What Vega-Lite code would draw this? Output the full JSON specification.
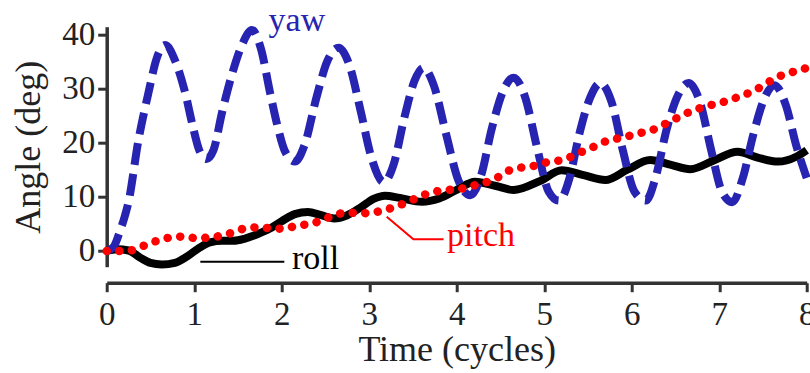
{
  "$schema": "https://vega.github.io/schema/vega-lite/v6.json",
  "width": 700,
  "height": 240,
  "autosize": {"type": "none"},
  "padding": {"left": 106.7, "top": 26.7, "right": 3.3, "bottom": 106.3},
  "config": {"view": {"stroke": null}, "font": "Liberation Serif"},
  "datasets": {
    "yaw": [
      {"series":"yaw","t":0,"v":0},{"series":"yaw","t":0.08,"v":0.8},{"series":"yaw","t":0.15,"v":3.6},{"series":"yaw","t":0.21,"v":6.6},
      {"series":"yaw","t":0.25,"v":9.1},{"series":"yaw","t":0.36,"v":20.2},{"series":"yaw","t":0.48,"v":29.4},{"series":"yaw","t":0.57,"v":35.5},
      {"series":"yaw","t":0.67,"v":38.0},{"series":"yaw","t":0.78,"v":35.2},{"series":"yaw","t":0.9,"v":29.0},{"series":"yaw","t":0.98,"v":23.3},
      {"series":"yaw","t":1.06,"v":18.5},{"series":"yaw","t":1.14,"v":17.0},{"series":"yaw","t":1.22,"v":18.6},{"series":"yaw","t":1.32,"v":25.7},
      {"series":"yaw","t":1.43,"v":32.5},{"series":"yaw","t":1.545,"v":38.0},{"series":"yaw","t":1.66,"v":40.8},{"series":"yaw","t":1.76,"v":37.5},
      {"series":"yaw","t":1.87,"v":29.0},{"series":"yaw","t":1.95,"v":23.2},{"series":"yaw","t":2.04,"v":18.3},{"series":"yaw","t":2.15,"v":16.5},
      {"series":"yaw","t":2.26,"v":19.5},{"series":"yaw","t":2.4,"v":28.5},{"series":"yaw","t":2.52,"v":35.0},{"series":"yaw","t":2.65,"v":37.5},
      {"series":"yaw","t":2.78,"v":34.0},{"series":"yaw","t":2.9,"v":26.0},{"series":"yaw","t":3.03,"v":17.0},{"series":"yaw","t":3.165,"v":12.7},
      {"series":"yaw","t":3.28,"v":16.0},{"series":"yaw","t":3.4,"v":24.5},{"series":"yaw","t":3.52,"v":31.5},{"series":"yaw","t":3.62,"v":33.8},
      {"series":"yaw","t":3.74,"v":30.5},{"series":"yaw","t":3.88,"v":21.5},{"series":"yaw","t":4.02,"v":13.0},{"series":"yaw","t":4.157,"v":10.3},
      {"series":"yaw","t":4.28,"v":14.0},{"series":"yaw","t":4.4,"v":22.5},{"series":"yaw","t":4.53,"v":29.5},{"series":"yaw","t":4.65,"v":32.0},
      {"series":"yaw","t":4.78,"v":28.5},{"series":"yaw","t":4.92,"v":19.0},{"series":"yaw","t":5.05,"v":11.0},{"series":"yaw","t":5.17,"v":9.3},
      {"series":"yaw","t":5.29,"v":13.5},{"series":"yaw","t":5.4,"v":21.5},{"series":"yaw","t":5.53,"v":28.5},{"series":"yaw","t":5.64,"v":31.0},
      {"series":"yaw","t":5.77,"v":27.5},{"series":"yaw","t":5.9,"v":18.5},{"series":"yaw","t":6.03,"v":11.0},{"series":"yaw","t":6.16,"v":9.3},
      {"series":"yaw","t":6.28,"v":14.0},{"series":"yaw","t":6.4,"v":22.5},{"series":"yaw","t":6.53,"v":28.8},{"series":"yaw","t":6.65,"v":31.0},
      {"series":"yaw","t":6.78,"v":27.5},{"series":"yaw","t":6.91,"v":18.5},{"series":"yaw","t":7.03,"v":11.0},{"series":"yaw","t":7.15,"v":9.0},
      {"series":"yaw","t":7.27,"v":13.5},{"series":"yaw","t":7.39,"v":21.5},{"series":"yaw","t":7.52,"v":28.3},{"series":"yaw","t":7.63,"v":30.6},
      {"series":"yaw","t":7.76,"v":27.0},{"series":"yaw","t":7.88,"v":19.5},{"series":"yaw","t":8.0,"v":13.5}
    ],
    "pitch": [
      {"series":"pitch","t":0,"v":0},{"series":"pitch","t":0.13,"v":0},{"series":"pitch","t":0.27,"v":0.1},{"series":"pitch","t":0.43,"v":1.0},
      {"series":"pitch","t":0.57,"v":1.85},{"series":"pitch","t":0.71,"v":2.45},{"series":"pitch","t":0.87,"v":2.65},{"series":"pitch","t":1.01,"v":2.4},
      {"series":"pitch","t":1.16,"v":2.45},{"series":"pitch","t":1.3,"v":2.8},{"series":"pitch","t":1.44,"v":3.4},{"series":"pitch","t":1.59,"v":4.2},
      {"series":"pitch","t":1.73,"v":4.35},{"series":"pitch","t":1.88,"v":4.2},{"series":"pitch","t":2.03,"v":4.1},{"series":"pitch","t":2.17,"v":4.7},
      {"series":"pitch","t":2.32,"v":4.95},{"series":"pitch","t":2.46,"v":5.7},{"series":"pitch","t":2.6,"v":6.6},{"series":"pitch","t":2.75,"v":7.1},
      {"series":"pitch","t":2.89,"v":6.95},{"series":"pitch","t":3.04,"v":7.1},{"series":"pitch","t":3.18,"v":7.6},{"series":"pitch","t":3.33,"v":8.35},
      {"series":"pitch","t":3.46,"v":9.2},{"series":"pitch","t":3.6,"v":10.2},{"series":"pitch","t":3.74,"v":10.9},{"series":"pitch","t":3.88,"v":11.25},
      {"series":"pitch","t":4.02,"v":11.4},{"series":"pitch","t":4.17,"v":12.0},{"series":"pitch","t":4.32,"v":12.6},{"series":"pitch","t":4.46,"v":13.5},
      {"series":"pitch","t":4.59,"v":14.8},{"series":"pitch","t":4.74,"v":15.4},{"series":"pitch","t":4.88,"v":15.7},{"series":"pitch","t":5.01,"v":16.3},
      {"series":"pitch","t":5.17,"v":16.7},{"series":"pitch","t":5.31,"v":17.4},{"series":"pitch","t":5.45,"v":18.45},{"series":"pitch","t":5.59,"v":19.4},
      {"series":"pitch","t":5.72,"v":20.35},{"series":"pitch","t":5.85,"v":20.8},{"series":"pitch","t":6.01,"v":21.4},{"series":"pitch","t":6.15,"v":22.0},
      {"series":"pitch","t":6.28,"v":22.6},{"series":"pitch","t":6.41,"v":23.7},{"series":"pitch","t":6.55,"v":24.8},{"series":"pitch","t":6.68,"v":25.8},
      {"series":"pitch","t":6.83,"v":26.6},{"series":"pitch","t":6.97,"v":27.2},{"series":"pitch","t":7.11,"v":27.8},{"series":"pitch","t":7.25,"v":28.65},
      {"series":"pitch","t":7.39,"v":29.5},{"series":"pitch","t":7.52,"v":30.75},{"series":"pitch","t":7.65,"v":32.0},{"series":"pitch","t":7.79,"v":32.8},
      {"series":"pitch","t":7.92,"v":33.4},{"series":"pitch","t":8.0,"v":33.8}
    ],
    "roll": [
      {"series":"roll","t":0,"v":0},{"series":"roll","t":0.12,"v":0.3},{"series":"roll","t":0.25,"v":0.1},{"series":"roll","t":0.38,"v":-1.2},
      {"series":"roll","t":0.5,"v":-2.2},{"series":"roll","t":0.63,"v":-2.5},{"series":"roll","t":0.78,"v":-2.2},{"series":"roll","t":0.92,"v":-1.0},
      {"series":"roll","t":1.05,"v":0.5},{"series":"roll","t":1.18,"v":1.6},{"series":"roll","t":1.32,"v":1.9},{"series":"roll","t":1.45,"v":1.9},
      {"series":"roll","t":1.58,"v":2.3},{"series":"roll","t":1.72,"v":3.1},{"series":"roll","t":1.86,"v":4.1},{"series":"roll","t":2.0,"v":5.5},
      {"series":"roll","t":2.15,"v":6.8},{"series":"roll","t":2.3,"v":7.2},{"series":"roll","t":2.45,"v":6.6},{"series":"roll","t":2.6,"v":6.0},
      {"series":"roll","t":2.75,"v":6.6},{"series":"roll","t":2.9,"v":8.0},{"series":"roll","t":3.05,"v":9.6},{"series":"roll","t":3.18,"v":10.2},
      {"series":"roll","t":3.35,"v":9.8},{"series":"roll","t":3.6,"v":9.1},{"series":"roll","t":3.8,"v":9.7},{"series":"roll","t":4.0,"v":11.3},
      {"series":"roll","t":4.21,"v":12.8},{"series":"roll","t":4.45,"v":12.0},{"series":"roll","t":4.65,"v":11.25},{"series":"roll","t":4.95,"v":12.9},
      {"series":"roll","t":5.2,"v":14.9},{"series":"roll","t":5.45,"v":14.0},{"series":"roll","t":5.7,"v":13.1},{"series":"roll","t":5.95,"v":15.0},
      {"series":"roll","t":6.21,"v":16.8},{"series":"roll","t":6.45,"v":15.9},{"series":"roll","t":6.67,"v":15.1},{"series":"roll","t":6.95,"v":16.8},
      {"series":"roll","t":7.21,"v":18.3},{"series":"roll","t":7.45,"v":17.2},{"series":"roll","t":7.67,"v":16.5},{"series":"roll","t":7.88,"v":17.4},
      {"series":"roll","t":8.0,"v":18.6}
    ],
    "leaders": [
      {"series":"pitch","t":3.2,"v":6.33},{"series":"pitch","t":3.505,"v":2.16},{"series":"pitch","t":3.85,"v":2.16},
      {"series":"roll","t":1.07,"v":-1.97},{"series":"roll","t":2.03,"v":-1.97}
    ],
    "labels": [
      {"series":"yaw","t":1.85,"v":40.6,"label":"yaw"},
      {"series":"pitch","t":3.89,"v":0.92,"label":"pitch"},
      {"series":"roll","t":2.117,"v":-3.38,"label":"roll"}
    ]
  },
  "encoding": {
    "x": {
      "field": "t", "type": "quantitative",
      "scale": {"domain": [0, 8], "nice": false},
      "axis": {
        "title": "Time (cycles)", "values": [0,1,2,3,4,5,6,7,8], "offset": 16, "grid": false,
        "domainColor": "#333333", "domainWidth": 3.5, "tickColor": "#333333", "tickWidth": 3, "tickSize": 9,
        "labelFont": "Liberation Serif", "labelFontSize": 33, "labelColor": "#222222", "labelPadding": 7,
        "labelFlush": false, "labelOverlap": false,
        "titleFont": "Liberation Serif", "titleFontSize": 36, "titleFontWeight": "normal", "titleColor": "#222222",
        "titleX": 350, "titleY": 78, "titleBaseline": "alphabetic", "titleAlign": "center"
      }
    },
    "y": {
      "field": "v", "type": "quantitative",
      "scale": {"domain": [-2.9, 41.4], "nice": false, "zero": false},
      "axis": {
        "title": "Angle (deg)", "values": [0,10,20,30,40], "grid": false,
        "domainColor": "#333333", "domainWidth": 3.5, "tickColor": "#333333", "tickWidth": 3, "tickSize": 9,
        "labelFont": "Liberation Serif", "labelFontSize": 33, "labelColor": "#222222", "labelPadding": 3,
        "labelOverlap": false,
        "titleFont": "Liberation Serif", "titleFontSize": 36, "titleFontWeight": "normal", "titleColor": "#222222",
        "titleX": -67, "titleY": 120, "titleAngle": -90, "titleBaseline": "alphabetic", "titleAlign": "center"
      }
    },
    "color": {
      "field": "series", "type": "nominal",
      "scale": {"domain": ["yaw", "pitch", "roll"], "range": ["#2624b0", "#ff0000", "#000000"]},
      "legend": null
    }
  },
  "layer": [
    {"data": {"name": "leaders"}, "mark": {"type": "line", "strokeWidth": 2}, "encoding": {"detail": {"field": "series"}}},
    {"data": {"name": "roll"}, "mark": {"type": "line", "interpolate": "monotone", "strokeWidth": 8}},
    {"data": {"name": "yaw"}, "mark": {"type": "line", "interpolate": "monotone", "strokeWidth": 8, "strokeDash": [22, 9], "strokeCap": "butt"}},
    {"data": {"name": "pitch"}, "mark": {"type": "line", "interpolate": "monotone", "strokeWidth": 8.5, "strokeDash": [0.1, 12.5], "strokeCap": "round"}},
    {"data": {"name": "labels"}, "mark": {"type": "text", "align": "left", "baseline": "alphabetic", "font": "Liberation Serif", "fontSize": 34}, "encoding": {"text": {"field": "label"}}}
  ]
}
